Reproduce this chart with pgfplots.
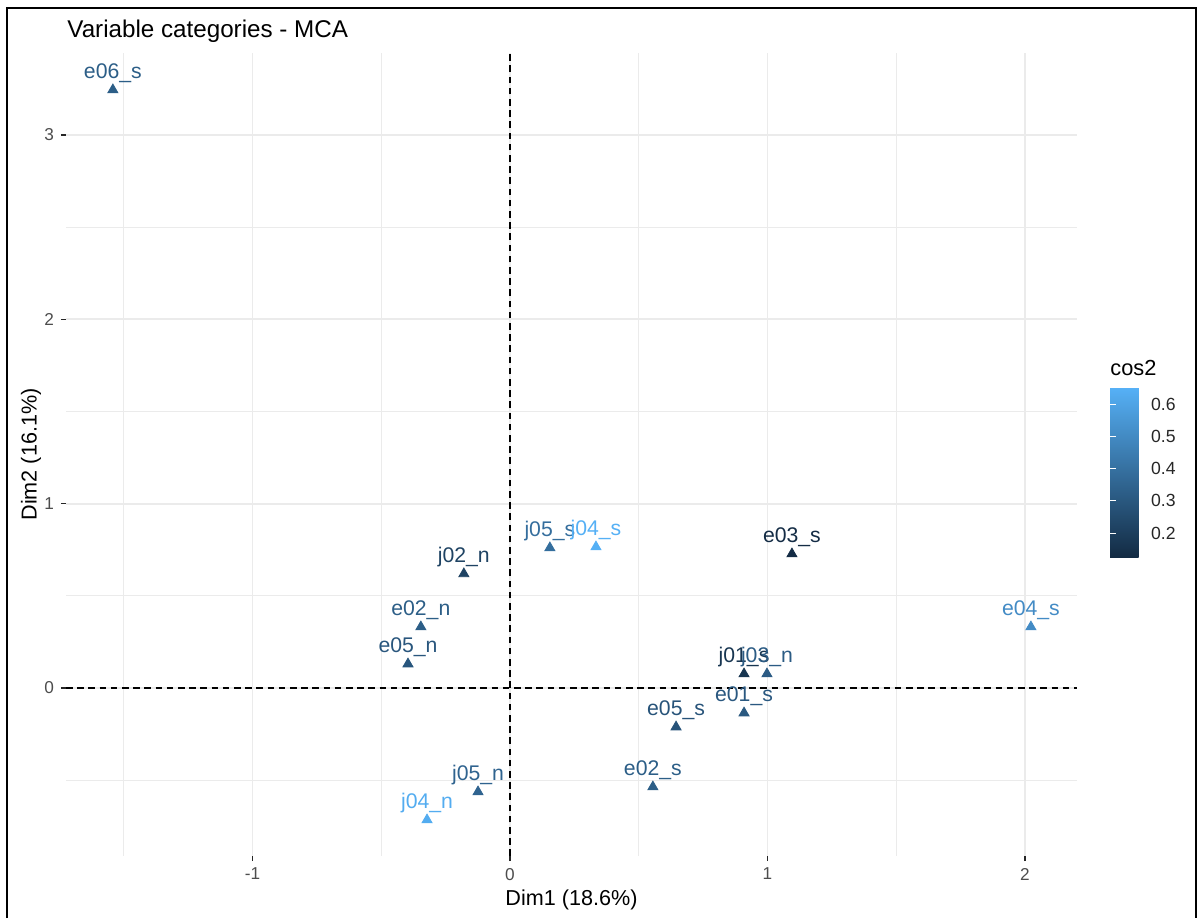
\documentclass[border=0pt]{standalone}
\usepackage{pgfplots}
\pgfplotsset{compat=1.18}
\usepackage{fontspec}
\setmainfont{Liberation Sans}
\definecolor{gridc}{HTML}{EBEBEB}
\definecolor{tickc}{HTML}{4D4D4D}
\definecolor{ggLo}{RGB}{19,43,67}
\definecolor{ggHi}{RGB}{86,177,247}

% x, y, label, colour position (0..100) on the cos2 colour scale
\newcommand{\mcapt}[4]{%
  \addplot[only marks, mark=triangle*, mark size=2.9pt, color=ggHi!#4!ggLo,
    nodes near coords={#3},
    every node near coord/.append style={anchor=base, yshift=5.5pt, inner sep=0pt,
      font=\fontsize{10.6}{12}\selectfont, text=ggHi!#4!ggLo}]
    coordinates {(#1,#2)};}

\begin{document}
\begin{tikzpicture}
\useasboundingbox (-33pt,-31pt) rectangle (566.5pt,428pt);
\draw[line width=1.3pt] (-29.5pt,-31pt) -- (-29.5pt,424pt) -- (565pt,424pt) -- (565pt,-31pt);
\begin{axis}[
  scale only axis, width=505.5pt, height=401.5pt,
  xmin=-1.724, xmax=2.202, ymin=-0.912, ymax=3.445,
  axis line style={draw=none},
  xtick={-1,0,1,2}, xticklabels={-1,0,1,2},
  ytick={0,1,2,3}, yticklabels={0,1,2,3},
  minor xtick={-1.5,-0.5,0.5,1.5}, minor ytick={-0.5,0.5,1.5,2.5},
  grid=both,
  major grid style={gridc, line width=0.9pt},
  minor grid style={gridc, line width=0.5pt},
  tick align=outside, xtick pos=bottom, ytick pos=left,
  major tick length=2.5pt, minor tick length=0pt,
  major tick style={line width=0.7pt, black!85},
  ticklabel style={font=\fontsize{8.6}{10}\selectfont, text=tickc},
  xlabel={Dim1 (18.6\%)}, ylabel={Dim2 (16.1\%)},
  label style={font=\fontsize{10.8}{12}\selectfont},
  xlabel style={at={(axis description cs:0.5,-0.0548)}, anchor=center},
  ylabel style={at={(axis description cs:-0.0346,0.5)}, anchor=center},
  colormap={ggb}{rgb255(0cm)=(19,43,67) rgb255(1cm)=(86,177,247)},
  point meta min=0.126, point meta max=0.653,
  colorbar,
  colorbar style={
    at={(513.5pt,149.5pt)}, anchor=south west, xshift=0pt,
    scale only axis, width=18pt, height=85pt,
    grid=none,
    ytick={0.2,0.3,0.4,0.5,0.6},
    yticklabels={0.2,0.3,0.4,0.5,0.6},
    ytick pos=both, yticklabel pos=right,
    tick align=inside, major tick length=3pt,
    major tick style={white, line width=0.5pt},
    axis line style={draw=none},
    yticklabel style={font=\fontsize{8.8}{10}\selectfont, text=black!85, xshift=-1pt},
  },
]
\draw[black, line width=0.8pt, dash pattern=on 3.3pt off 2.3pt] (axis cs:0,-0.912) -- (axis cs:0,3.445);
\draw[black, line width=0.8pt, dash pattern=on 3.3pt off 2.3pt] (axis cs:-1.724,0) -- (axis cs:2.202,0);
\mcapt{-1.542}{3.245}{e06\_s}{38}
\mcapt{0.155}{0.760}{j05\_s}{50}
\mcapt{0.334}{0.765}{j04\_s}{99}
\mcapt{-0.179}{0.619}{j02\_n}{18}
\mcapt{-0.346}{0.331}{e02\_n}{38}
\mcapt{-0.396}{0.130}{e05\_n}{32}
\mcapt{1.095}{0.727}{e03\_s}{1}
\mcapt{0.909}{0.076}{j01\_s}{8}
\mcapt{0.998}{0.076}{j03\_n}{36}
\mcapt{0.909}{-0.136}{e01\_s}{34}
\mcapt{0.645}{-0.212}{e05\_s}{30}
\mcapt{0.555}{-0.537}{e02\_s}{38}
\mcapt{-0.124}{-0.564}{j05\_n}{42}
\mcapt{-0.322}{-0.716}{j04\_n}{96}
\mcapt{2.023}{0.331}{e04\_s}{72}
\end{axis}
\node[anchor=base west, inner sep=0pt, font=\fontsize{12.1}{14}\selectfont] at (0.5pt,409pt) {Variable categories - MCA};
\node[anchor=base west, inner sep=0pt, font=\fontsize{10.9}{13}\selectfont] at (522pt,240.5pt) {cos2};
\end{tikzpicture}
\end{document}
